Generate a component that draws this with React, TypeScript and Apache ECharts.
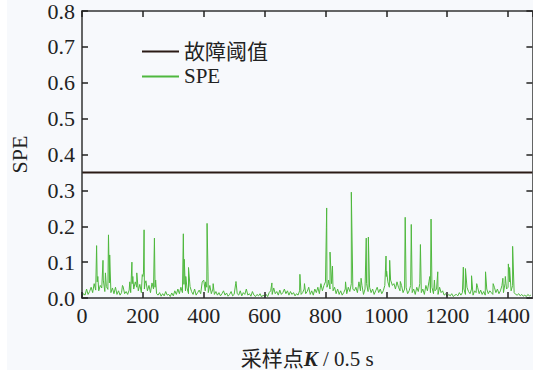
import React, { useEffect, useRef } from "react";
import * as echarts from "echarts";

// Legend / series names
const seriesNames = ["故障阈值", "SPE"];
const threshold = 0.35;
const xMax = 1480;
const step = 5;

// Baseline SPE values, one every 5 samples, per segment start
const segStarts = [0, 250, 500, 750, 1000, 1250];
const seg0 = [0.004,0.012,0.008,0.025,0.010,0.018,0.030,0.015,0.040,0.022,
  0.045,0.020,0.035,0.028,0.050,0.018,0.032,0.024,0.042,0.015,
  0.028,0.012,0.030,0.010,0.020,0.008,0.015,0.032,0.012,0.018,
  0.010,0.022,0.015,0.040,0.025,0.045,0.030,0.020,0.038,0.015,
  0.060,0.025,0.048,0.020,0.035,0.015,0.042,0.025,0.030,0.012];
const seg1 = [0.008,0.015,0.005,0.012,0.006,0.018,0.008,0.010,0.004,0.014,
  0.006,0.020,0.010,0.025,0.012,0.030,0.015,0.038,0.020,0.028,
  0.012,0.032,0.018,0.010,0.025,0.008,0.015,0.022,0.012,0.045,
  0.050,0.020,0.030,0.015,0.035,0.012,0.025,0.010,0.018,0.008,
  0.015,0.006,0.012,0.020,0.008,0.014,0.005,0.010,0.018,0.006];
const seg2 = [0.010,0.040,0.012,0.008,0.020,0.006,0.015,0.010,0.025,0.008,
  0.012,0.005,0.018,0.008,0.004,0.010,0.006,0.012,0.003,0.008,
  0.005,0.010,0.004,0.015,0.020,0.010,0.028,0.012,0.018,0.008,
  0.022,0.010,0.015,0.025,0.012,0.020,0.008,0.018,0.010,0.015,
  0.006,0.012,0.008,0.020,0.010,0.015,0.025,0.012,0.018,0.030];
const seg3 = [0.010,0.020,0.008,0.025,0.015,0.030,0.012,0.040,0.020,0.035,
  0.045,0.030,0.050,0.025,0.040,0.020,0.030,0.012,0.025,0.010,
  0.020,0.008,0.015,0.025,0.012,0.030,0.018,0.040,0.025,0.020,
  0.030,0.015,0.045,0.020,0.035,0.010,0.025,0.040,0.018,0.030,
  0.015,0.025,0.010,0.020,0.030,0.015,0.025,0.012,0.020,0.035];
const seg4 = [0.060,0.045,0.030,0.050,0.035,0.040,0.025,0.045,0.030,0.020,
  0.035,0.015,0.025,0.030,0.012,0.020,0.035,0.015,0.025,0.010,
  0.030,0.018,0.040,0.015,0.025,0.010,0.035,0.020,0.045,0.015,
  0.030,0.012,0.020,0.025,0.010,0.030,0.015,0.020,0.008,0.012,
  0.005,0.010,0.006,0.012,0.004,0.008,0.010,0.006,0.015,0.008];
const seg5 = [0.015,0.025,0.010,0.030,0.018,0.012,0.025,0.008,0.020,0.015,
  0.030,0.012,0.022,0.010,0.018,0.008,0.025,0.012,0.020,0.015,
  0.010,0.030,0.015,0.025,0.012,0.020,0.035,0.015,0.040,0.025,
  0.030,0.045,0.020,0.035,0.015,0.010,0.008,0.012,0.006,0.010,
  0.005,0.008,0.004,0.010,0.006,0.008];

// Spikes: [sample index, SPE]
const spikes: [number, number][] = [
  [48,0.146],[52,0.06],[69,0.105],[77,0.07],[87,0.176],[91,0.12],[133,0.035],
  [157,0.045],[164,0.10],[167,0.06],[180,0.07],[198,0.065],[202,0.07],[204,0.19],
  [207,0.04],[238,0.167],[242,0.05],[333,0.179],[336,0.108],[341,0.06],[350,0.085],
  [401,0.05],[406,0.045],[411,0.208],[414,0.075],[431,0.04],[506,0.046],[624,0.042],
  [716,0.066],[731,0.04],[786,0.04],[803,0.196],[804,0.251],[809,0.04],[815,0.128],
  [823,0.089],[866,0.045],[885,0.295],[917,0.055],[934,0.167],[941,0.17],[999,0.117],
  [1001,0.075],[1011,0.105],[1014,0.05],[1046,0.046],[1062,0.225],[1082,0.205],
  [1112,0.149],[1143,0.06],[1147,0.22],[1158,0.05],[1169,0.073],[1253,0.086],
  [1260,0.082],[1280,0.062],[1297,0.04],[1326,0.073],[1351,0.04],[1383,0.055],
  [1391,0.06],[1401,0.095],[1405,0.085],[1415,0.144]
];

const segments = [seg0, seg1, seg2, seg3, seg4, seg5];

function buildSpe(): [number, number][] {
  const pts: [number, number][] = [];
  segments.forEach((seg, i) => {
    seg.forEach((v, j) => pts.push([segStarts[i] + j * step, v]));
  });
  spikes.forEach((p) => pts.push([p[0], p[1]]));
  pts.sort((a, b) => a[0] - b[0]);
  return pts;
}

const FONT = "Liberation Serif, Noto Sans CJK SC, serif";

export default function App() {
  const ref = useRef<HTMLDivElement>(null);
  useEffect(() => {
    if (!ref.current) return;
    const chart = echarts.init(ref.current, undefined, { renderer: "svg" });
    const axisLine = { show: true, onZero: false, lineStyle: { color: "#333", width: 1.5 } };
    const tick = { show: true, inside: true, length: 6, lineStyle: { color: "#222", width: 1.5 } };
    chart.setOption({
      animation: false,
      backgroundColor: "transparent",
      textStyle: { fontFamily: FONT },
      grid: { left: 81, top: 11, width: 454, height: 291.5 },
      legend: {
        orient: "vertical",
        left: 137,
        top: 36,
        itemWidth: 37,
        itemHeight: 2,
        itemGap: 4,
        icon: "rect",
        textStyle: { fontFamily: FONT, fontSize: 21, color: "#222" },
        data: seriesNames,
      },
      xAxis: [
        {
          type: "value",
          min: 0,
          max: xMax,
          interval: 200,
          z: 5,
          name: "采样点{k|K} / 0.5 s",
          nameLocation: "middle",
          nameGap: 50,
          nameTextStyle: {
            fontFamily: FONT,
            fontSize: 21,
            color: "#222",
            rich: { k: { fontFamily: FONT, fontSize: 21, fontWeight: "bold", fontStyle: "italic", color: "#222" } },
          },
          axisLine,
          axisTick: tick,
          splitLine: { show: false },
          axisLabel: {
            fontFamily: FONT,
            fontSize: 22,
            color: "#222",
            margin: 6,
            showMaxLabel: false,
            formatter: (v: number) => String(v),
          },
        },
        {
          type: "value",
          position: "top",
          min: 0,
          max: xMax,
          interval: 200,
          z: 5,
          axisLine,
          axisTick: tick,
          splitLine: { show: false },
          axisLabel: { show: false },
        },
      ],
      yAxis: [
        {
          type: "value",
          min: 0,
          max: 0.8,
          interval: 0.1,
          z: 5,
          name: "SPE",
          nameLocation: "middle",
          nameGap: 52,
          nameTextStyle: { fontFamily: FONT, fontSize: 22, color: "#222" },
          axisLine,
          axisTick: tick,
          splitLine: { show: false },
          axisLabel: {
            fontFamily: FONT,
            fontSize: 22,
            color: "#222",
            margin: 7,
            formatter: (v: number) => v.toFixed(1),
          },
        },
        {
          type: "value",
          position: "right",
          min: 0,
          max: 0.8,
          interval: 0.1,
          z: 5,
          axisLine,
          axisTick: tick,
          splitLine: { show: false },
          axisLabel: { show: false },
        },
      ],
      series: [
        {
          name: seriesNames[0],
          type: "line",
          symbol: "none",
          data: [[0, threshold], [xMax, threshold]],
          lineStyle: { color: "#2a1a15", width: 2 },
          itemStyle: { color: "#2a1a15" },
          z: 4,
        },
        {
          name: seriesNames[1],
          type: "line",
          symbol: "none",
          data: buildSpe(),
          lineStyle: { color: "#4fb83e", width: 1 },
          itemStyle: { color: "#4fb83e" },
          z: 3,
        },
      ],
    });
    return () => chart.dispose();
  }, []);
  return (
    <div style={{ position: "absolute", left: 0, top: 0, width: 533, height: 374, background: "#fff", overflow: "hidden" }}>
      <div style={{ position: "absolute", left: 7, top: 0, width: 526, height: 370, background: "#f7f9fc" }} />
      <div ref={ref} style={{ position: "absolute", left: 0, top: 0, width: 533, height: 374 }} />
    </div>
  );
}
